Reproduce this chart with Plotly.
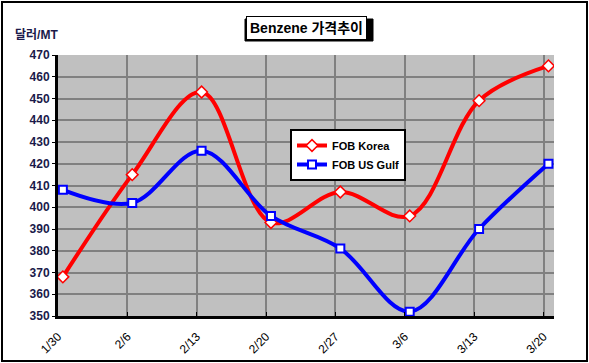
import plotly.graph_objects as go

categories = ["1/30", "2/6", "2/13", "2/20", "2/27", "3/6", "3/13", "3/20"]
fob_korea = [368, 415, 453, 393, 407, 396, 449, 465]
fob_us_gulf = [408, 402, 426, 396, 381, 352, 390, 420]
y_ticks = list(range(350, 471, 10))

W, H = 589, 363
L, R, T, B = 58, 35, 55, 47
pw, ph = W - L - R, H - T - B

def px(x):
    return (x - L) / pw

def py(y):
    return (H - B - y) / ph

xi = list(range(len(categories)))
off = 0.07
FONT = "Arial, 'Liberation Sans', 'Noto Sans CJK KR', sans-serif"

fig = go.Figure()
fig.add_trace(go.Scatter(
    x=xi, y=fob_korea, name="FOB Korea", mode="lines+markers",
    line=dict(color="#FF0000", width=4, shape="spline", smoothing=1.0),
    marker=dict(symbol="diamond", size=9, color="white",
                line=dict(color="#FF0000", width=1.5)),
))
fig.add_trace(go.Scatter(
    x=xi, y=fob_us_gulf, name="FOB US Gulf", mode="lines+markers",
    line=dict(color="#0000FF", width=4, shape="spline", smoothing=1.0),
    marker=dict(symbol="square", size=8, color="white",
                line=dict(color="#0000FF", width=2)),
))

fig.update_layout(
    width=W, height=H,
    margin=dict(l=L, r=R, t=T, b=B, autoexpand=False),
    paper_bgcolor="white",
    plot_bgcolor="#C0C0C0",
    font=dict(family=FONT, size=11, color="black"),
    showlegend=True,
    legend=dict(
        x=px(290), y=py(129), xanchor="left", yanchor="top",
        bgcolor="white", bordercolor="black", borderwidth=2,
        font=dict(family=FONT, size=11, color="black", weight="bold"),
        tracegroupgap=0, itemwidth=30,
    ),
    xaxis=dict(
        range=[-off, len(categories) - 1 + 0.08],
        tickmode="array",
        tickvals=[i - off for i in xi],
        ticktext=categories,
        tickangle=-45,
        tickfont=dict(size=12, color="black"),
        ticklabelstandoff=6,
        showgrid=True, gridcolor="#808080", gridwidth=2,
        showline=True, linecolor="black", linewidth=3,
        ticks="inside", ticklen=4, tickcolor="black",
        zeroline=False,
    ),
    yaxis=dict(
        range=[350, 470],
        tickmode="array",
        tickvals=y_ticks,
        tickfont=dict(size=12, color="#1A1A4A", weight="bold"),
        showgrid=True, gridcolor="#808080", gridwidth=2,
        showline=True, linecolor="black", linewidth=3,
        ticks="outside", ticklen=3, tickcolor="black",
        zeroline=False,
    ),
    shapes=[
        dict(type="rect", xref="paper", yref="paper",
             x0=px(2), x1=px(587), y0=py(361), y1=py(2),
             line=dict(color="black", width=2), fillcolor="rgba(0,0,0,0)",
             layer="below"),
        dict(type="rect", xref="paper", yref="paper",
             x0=px(245), x1=px(373), y0=py(41), y1=py(19),
             line=dict(color="black", width=1), fillcolor="black",
             layer="below"),
    ],
    annotations=[
        dict(text="Benzene 가격추이", xref="paper", yref="paper",
             x=px(306.5), y=py(28), xanchor="center", yanchor="middle",
             showarrow=False, bgcolor="white", bordercolor="black",
             borderwidth=1, borderpad=3,
             font=dict(family=FONT, size=14, color="black", weight="bold")),
        dict(text="달러/MT", xref="paper", yref="paper",
             x=px(13), y=py(35), xanchor="left", yanchor="middle",
             showarrow=False,
             font=dict(family=FONT, size=12, color="#1A1A4A", weight="bold")),
    ],
)

fig.write_html(
    "out.html",
    config={"displayModeBar": False},
    post_script="document.body.style.margin='0';document.body.style.overflow='hidden';",
)
